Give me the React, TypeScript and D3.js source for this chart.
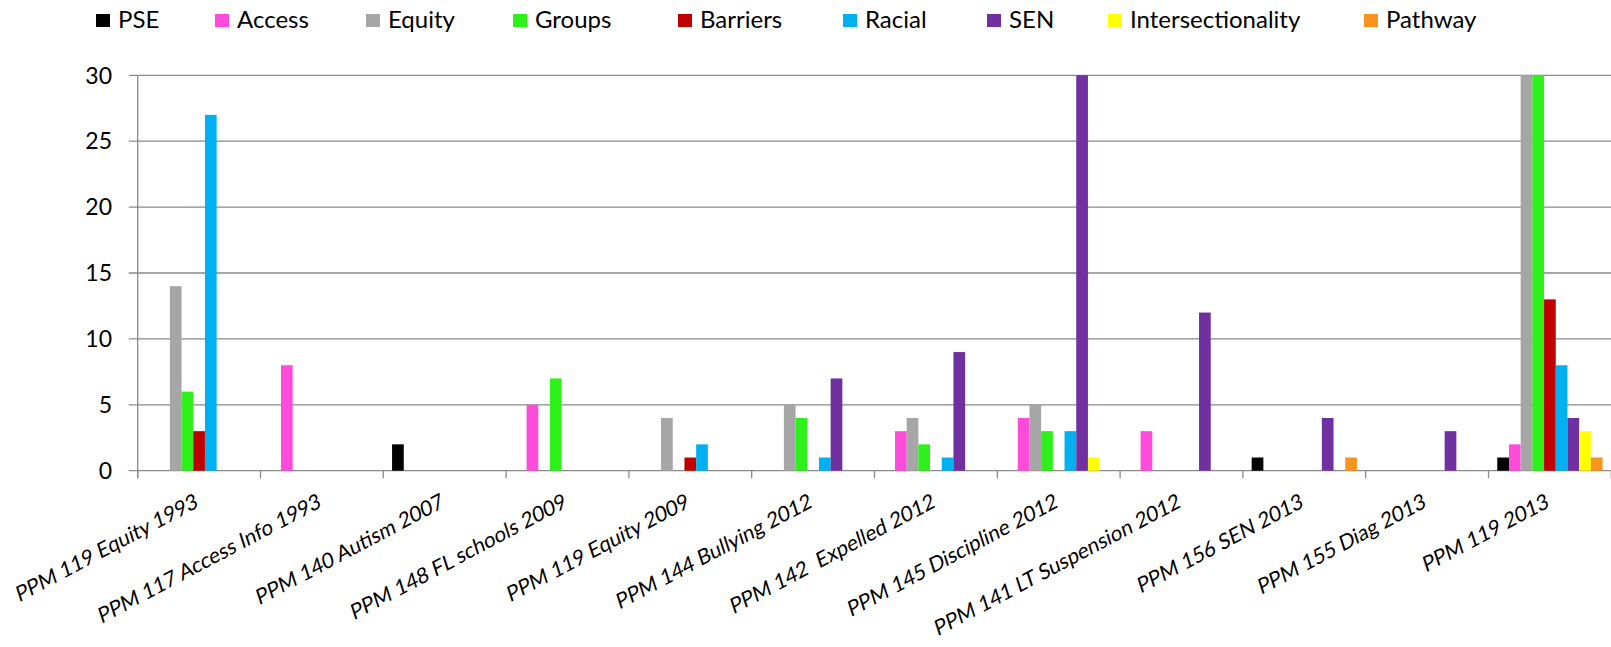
import React from "react";
import * as d3 from "d3";

// Policy documents along the x axis
const categories = [
  "PPM 119 Equity 1993",
  "PPM 117 Access Info 1993",
  "PPM 140 Autism 2007",
  "PPM 148 FL schools 2009",
  "PPM 119 Equity 2009",
  "PPM 144 Bullying 2012",
  "PPM 142  Expelled 2012",
  "PPM 145 Discipline 2012",
  "PPM 141 LT Suspension 2012",
  "PPM 156 SEN 2013",
  "PPM 155 Diag 2013",
  "PPM 119 2013",
];

// Term counts per document, one array per series
const pse = [0, 0, 2, 0, 0, 0, 0, 0, 0, 1, 0, 1];
const access = [0, 8, 0, 5, 0, 0, 3, 4, 3, 0, 0, 2];
const equity = [14, 0, 0, 0, 4, 5, 4, 5, 0, 0, 0, 38];
const groups = [6, 0, 0, 7, 0, 4, 2, 3, 0, 0, 0, 42];
const barriers = [3, 0, 0, 0, 1, 0, 0, 0, 0, 0, 0, 13];
const racial = [27, 0, 0, 0, 2, 1, 1, 3, 0, 0, 0, 8];
const sen = [0, 0, 0, 0, 0, 7, 9, 40, 12, 4, 3, 4];
const intersectionality = [0, 0, 0, 0, 0, 0, 0, 1, 0, 0, 0, 3];
const pathway = [0, 0, 0, 0, 0, 0, 0, 0, 0, 1, 0, 1];

const seriesNames = [
  "PSE",
  "Access",
  "Equity",
  "Groups",
  "Barriers",
  "Racial",
  "SEN",
  "Intersectionality",
  "Pathway",
];
const seriesValues = [pse, access, equity, groups, barriers, racial, sen, intersectionality, pathway];

const yTicks = [0, 5, 10, 15, 20, 25, 30];

// Styling
const seriesColors = [
  "#000000",
  "#FF4BD9",
  "#A6A6A6",
  "#2EF01A",
  "#C00000",
  "#00B0F0",
  "#7030A0",
  "#FFFF00",
  "#F7941D",
];
const legendX = [96, 215, 366, 513, 678, 843, 987, 1108, 1364];

const W = 1611;
const H = 647;
const FONT = "Lato, 'Open Sans', sans-serif";
const GRID = "#8A8A8A";

const plotLeft = 137.7;
const plotRight = 1611.3;
const plotTop = 75.3;
const plotBottom = 470.7;

export default function App() {
  const x0 = d3.scaleBand<string>().domain(categories).range([plotLeft, plotRight]).padding(0);
  const bw = x0.bandwidth();
  const barW = bw / 10.5; // 150% gap between clusters
  const x1 = d3
    .scaleBand<string>()
    .domain(seriesNames)
    .range([barW * 0.75, bw - barW * 0.75])
    .padding(0);
  const y = d3.scaleLinear().domain([0, 30]).range([plotBottom, plotTop]).clamp(true);

  const boundaries = categories.map((c) => x0(c) as number).concat([plotRight]);

  return (
    <svg
      width={W}
      height={H}
      style={{ position: "absolute", left: 0, top: 0, background: "#fff" }}
      fontFamily={FONT}
    >
      <rect x={0} y={0} width={W} height={H} fill="#fff" />

      {/* legend */}
      {seriesNames.map((name, i) => (
        <g key={name}>
          <rect x={legendX[i]} y={14} width={14} height={13} fill={seriesColors[i]} />
          <text x={legendX[i] + 22} y={28} fontSize={24} fill="#000">
            {name}
          </text>
        </g>
      ))}

      {/* horizontal gridlines with left ticks */}
      {yTicks.map((t) => (
        <g key={t}>
          <line
            x1={plotLeft - 9}
            x2={plotRight}
            y1={y(t)}
            y2={y(t)}
            stroke={GRID}
            strokeWidth={1.3}
          />
          <text
            x={112}
            y={y(t)}
            dy="0.36em"
            textAnchor="end"
            fontSize={23}
            fill="#000"
          >
            {t}
          </text>
        </g>
      ))}

      {/* y axis line */}
      <line x1={plotLeft} x2={plotLeft} y1={plotTop} y2={plotBottom + 7.5} stroke={GRID} strokeWidth={1.3} />

      {/* category tick marks */}
      {boundaries.map((bx, i) => (
        <line key={i} x1={bx} x2={bx} y1={plotBottom} y2={plotBottom + 7.5} stroke={GRID} strokeWidth={1.3} />
      ))}

      {/* bars */}
      {categories.map((c, ci) => (
        <g key={c} transform={`translate(${x0(c)},0)`}>
          {seriesNames.map((s, si) => {
            const v = seriesValues[si][ci];
            if (!v) return null;
            const top = y(v);
            return (
              <rect
                key={s}
                x={x1(s) as number}
                y={top}
                width={x1.bandwidth()}
                height={plotBottom - top}
                fill={seriesColors[si]}
              />
            );
          })}
        </g>
      ))}

      {/* category labels, slanted */}
      {categories.map((c) => {
        const cx = (x0(c) as number) + bw / 2;
        const cy = plotBottom + 36;
        return (
          <g key={c} transform={`translate(${cx},${cy}) rotate(-28) skewX(-10)`}>
            <text
              x={0}
              y={0}
              textAnchor="end"
              fontSize={21}
              fill="#000"
              style={{ whiteSpace: "pre" }}
            >
              {c}
            </text>
          </g>
        );
      })}
    </svg>
  );
}
